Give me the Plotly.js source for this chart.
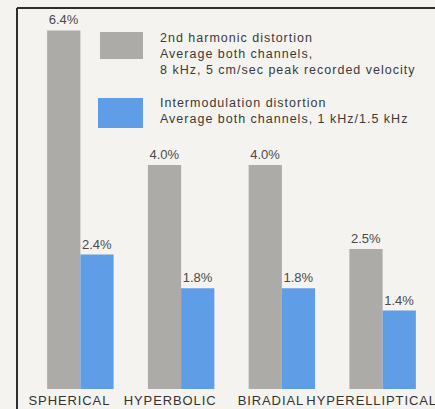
<!DOCTYPE html>
<html>
<head>
<meta charset="utf-8">
<script src="https://cdn.plot.ly/plotly-3.0.1.min.js"></script>
<style>
html,body{margin:0;padding:0;background:#f5f3ef;}
#chart{width:435px;height:409px;}
#chart .xtick text{letter-spacing:0.9px;}
#chart .annotation-text{letter-spacing:1px;}
#chart .textpoint text{letter-spacing:1.2px;}
</style>
</head>
<body>
<div id="chart"></div>
<script>
const categories = ["SPHERICAL", "HYPERBOLIC", "BIRADIAL", "HYPERELLIPTICAL"];
const harmonic = [6.4, 4.0, 4.0, 2.5];
const intermod = [2.4, 1.8, 1.8, 1.4];
const harmonicLabels = ["6.4%", "4.0%", "4.0%", "2.5%"];
const intermodLabels = ["2.4%", "1.8%", "1.8%", "1.4%"];
const legendHarmonic = ["2nd harmonic distortion", "Average both channels,", "8 kHz, 5 cm/sec peak recorded velocity"];
const legendIntermod = ["Intermodulation distortion", "Average both channels, 1 kHz/1.5 kHz"];

const FONT = "Liberation Sans, Arial, sans-serif";
const gray = "#acaba8", blue = "#5f9de6";
const textFont = {family: FONT, size: 13, color: "#4a4a4a"};

const traces = [
  {type: "bar", x: categories, y: harmonic, text: harmonicLabels, textposition: "outside",
   textfont: textFont, marker: {color: gray}, cliponaxis: false, hoverinfo: "skip"},
  {type: "bar", x: categories, y: intermod, text: intermodLabels, textposition: "outside",
   textfont: textFont, marker: {color: blue}, cliponaxis: false, hoverinfo: "skip"}
];

// plot area: x 30..433, y 8..389
const W = 403, H = 381, L = 30, T = 8;
const px = v => (v - L) / W;
const py = v => 1 - (v - T) / H;

const annotations = [];
function addLines(lines, x, y0, step) {
  lines.forEach((t, i) => annotations.push({
    xref: "paper", yref: "paper", x: px(x), y: py(y0 + i * step),
    xanchor: "left", yanchor: "middle", align: "left", showarrow: false, text: t,
    font: {family: FONT, size: 12.5, color: "#3a3a3a"}
  }));
}
addLines(legendHarmonic, 158, 38, 16);
addLines(legendIntermod, 158, 103, 15.5);

const shapes = [
  {type: "rect", xref: "paper", yref: "paper", x0: px(100), x1: px(143), y0: py(59), y1: py(32),
   fillcolor: gray, line: {width: 0}},
  {type: "rect", xref: "paper", yref: "paper", x0: px(98), x1: px(143), y0: py(128), y1: py(98),
   fillcolor: blue, line: {width: 0}},
  {type: "line", xref: "paper", yref: "paper", x0: px(17), x1: px(440), y0: py(8), y1: py(8),
   line: {color: "#2e2e2e", width: 2}},
  {type: "line", xref: "paper", yref: "paper", x0: px(17), x1: px(17), y0: py(8), y1: py(415),
   line: {color: "#2e2e2e", width: 2}}
];

const layout = {
  width: 435, height: 409,
  margin: {l: L, r: 435 - L - W, t: T, b: 409 - T - H, pad: 0},
  paper_bgcolor: "#f5f3ef", plot_bgcolor: "#f5f3ef",
  barmode: "group", bargap: 0.34, bargroupgap: 0,
  showlegend: false,
  xaxis: {type: "category", range: [-0.5, 3.5], showline: false, showgrid: false, zeroline: false,
          ticks: "", ticklabelstandoff: 2, ticklabelshift: -11,
          tickfont: {family: FONT, size: 13, color: "#333"}, fixedrange: true},
  yaxis: {range: [0, 6.8], visible: false, fixedrange: true},
  annotations: annotations, shapes: shapes,
  font: {family: FONT}
};

Plotly.newPlot("chart", traces, layout, {displayModeBar: false, staticPlot: true});
</script>
</body>
</html>
